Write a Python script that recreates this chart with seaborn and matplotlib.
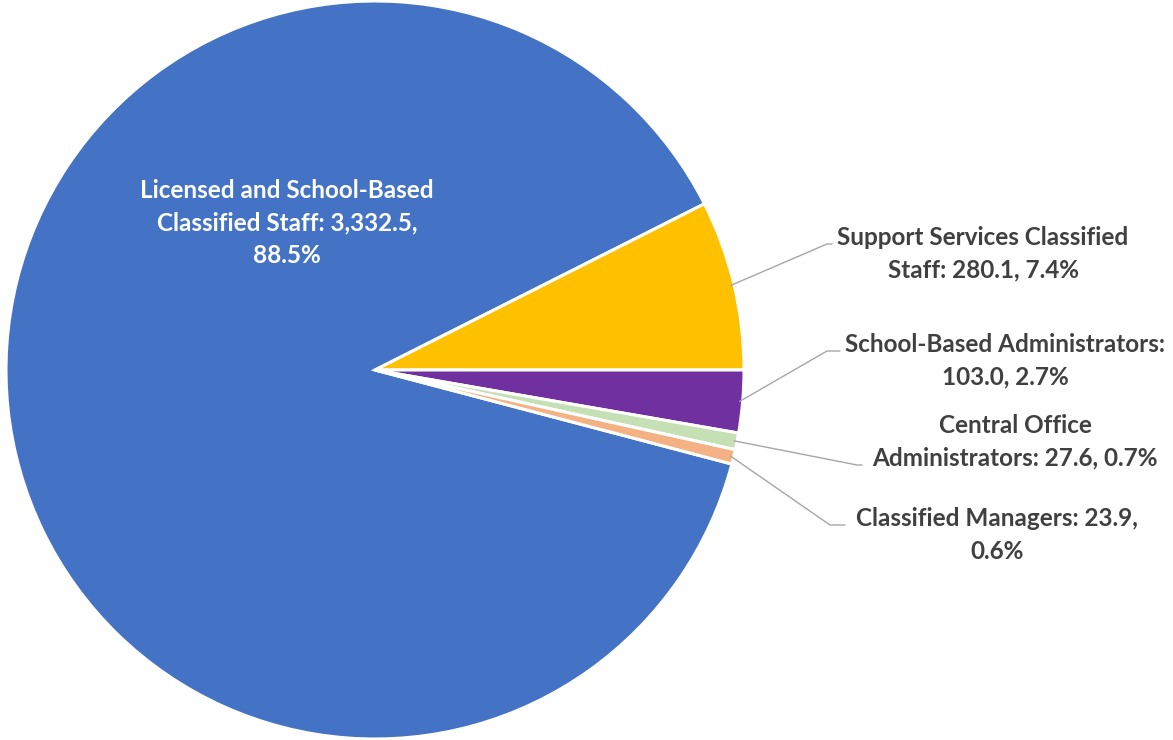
import numpy as np
import matplotlib
matplotlib.use("Agg")
import matplotlib.pyplot as plt
import seaborn as sns

categories = ["Licensed and School-Based Classified Staff",
              "Support Services Classified Staff",
              "School-Based Administrators",
              "Central Office Administrators",
              "Classified Managers"]
values = [3332.5, 280.1, 103.0, 27.6, 23.9]
percents = ["88.5%", "7.4%", "2.7%", "0.7%", "0.6%"]
colors = ["#4472C4", "#FFC000", "#7030A0", "#C5E0B4", "#F4B183"]

label_texts = [
    "Licensed and School-Based\nClassified Staff: 3,332.5,\n88.5%",
    "Support Services Classified\nStaff: 280.1, 7.4%",
    "School-Based Administrators:\n103.0, 2.7%",
    "Central Office\nAdministrators: 27.6, 0.7%",
    "Classified Managers: 23.9,\n0.6%",
]

sns.set_theme(style="white")
plt.rcParams['font.family'] = ['Lato', 'DejaVu Sans']

W, H = 1173, 740
fig = plt.figure(figsize=(W / 100, H / 100), dpi=100)
ax = fig.add_axes([0, 0, 1, 1])

cx, cy, R = 375, H - 370, 369
total = sum(values)
start = 360 * (values[0] + values[1]) / total

wedges, _ = ax.pie(values, colors=colors, startangle=start, counterclock=False,
                   center=(cx, cy), radius=R, frame=True,
                   wedgeprops=dict(edgecolor="white", linewidth=2.2))
ax.set_xlim(0, W)
ax.set_ylim(0, H)
ax.set_aspect("equal")
ax.axis("off")

FS = 17.5
LS = 1.5
# Inside label for main slice
ax.text(287, H - 223, label_texts[0], ha="center", va="center", color="white",
        fontsize=FS, fontweight="bold", linespacing=LS)

# Outside labels (text layout positions in pixels) and leader line elbows
text_pos = [None, (983, 254), (1005, 361), (1015, 442), (997, 535)]
elbows = [None, [(827, 244), (832, 244)], [(827, 351), (840, 351)],
          [(857, 465), (862, 465)], [(830, 525), (845, 525)]]

for i in range(1, 5):
    w = wedges[i]
    mid = np.deg2rad((w.theta1 + w.theta2) / 2)
    sx, sy = cx + (R - 3) * np.cos(mid), cy + (R - 3) * np.sin(mid)
    pts = [(sx, sy)] + [(x, H - y) for x, y in elbows[i]]
    ax.plot([p[0] for p in pts], [p[1] for p in pts], color="#A6A6A6", lw=1.0)
    tx, ty = text_pos[i]
    ax.text(tx, H - ty, label_texts[i], ha="center", va="center", color="#404040",
            fontsize=FS, fontweight="bold", linespacing=LS)

fig.savefig("out.png", dpi=100)
